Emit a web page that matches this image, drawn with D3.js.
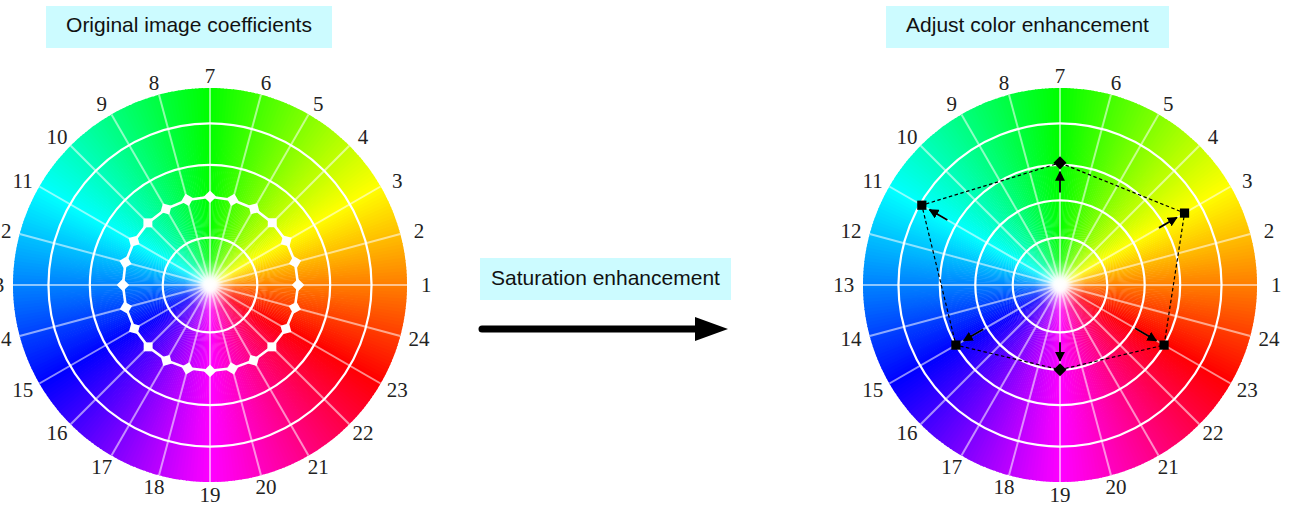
<!DOCTYPE html>
<html>
<head>
<meta charset="utf-8">
<script src="https://cdn.jsdelivr.net/npm/d3@7"></script>
<style>
  body { margin: 0; background: #fff; }
  svg { display: block; }
</style>
</head>
<body>
<div id="chart"></div>
<script>
// sector labels, counter-clockwise from the right (3 o'clock)
var sectors = d3.range(1, 25);

// rings drawn on each wheel (fraction of the wheel radius)
var ringsLeft = [0.24, 0.61, 0.82];
var ringsRight = [0.24, 0.43, 0.61, 0.82];

// original coefficients, one per sector (1..24)
var original = [0.447, 0.447, 0.447, 0.447, 0.447, 0.447, 0.448, 0.447, 0.446, 0.446, 0.445, 0.444,
                0.442, 0.442, 0.443, 0.444, 0.442, 0.438, 0.436, 0.438, 0.442, 0.444, 0.445, 0.446];

// adjusted points (sector, value) and where each arrow starts
var adjSectors = [7, 3, 23, 19, 15, 11];
var adjValues  = [0.62, 0.73, 0.61, 0.43, 0.61, 0.81];
var arrowFrom  = [0.47, 0.58, 0.44, 0.29, 0.45, 0.66];
var adjShape   = ["diamond", "square", "square", "diamond", "square", "square"];

var titles = ["Original image coefficients", "Adjust color enhancement"];
var middleLabel = "Saturation enhancement";

var W = 1296, H = 509, R = 197;
var svg = d3.select("#chart").append("svg")
    .attr("width", W)
    .attr("height", H);

var defs = svg.append("defs");
var grad = defs.append("radialGradient").attr("id", "whiteCore");
grad.append("stop").attr("offset", "0%").attr("stop-color", "#fff").attr("stop-opacity", 1);
grad.append("stop").attr("offset", "3%").attr("stop-color", "#fff").attr("stop-opacity", 0.92);
grad.append("stop").attr("offset", "7%").attr("stop-color", "#fff").attr("stop-opacity", 0.35);
grad.append("stop").attr("offset", "13%").attr("stop-color", "#fff").attr("stop-opacity", 0);

defs.append("marker")
    .attr("id", "head")
    .attr("viewBox", "0 0 10 10")
    .attr("refX", 9).attr("refY", 5)
    .attr("markerWidth", 5.5).attr("markerHeight", 5.5)
    .attr("markerUnits", "strokeWidth")
    .attr("orient", "auto")
  .append("path")
    .attr("d", "M0,0 L10,5 L0,10 z")
    .attr("fill", "#000");

var r = d3.scaleLinear().domain([0, 1]).range([0, R]);
var ang = d3.scaleLinear().domain([1, 25]).range([0, 2 * Math.PI]); // math angle of sector label

function px(s, v) { return r(v) * Math.cos(ang(s)); }
function py(s, v) { return -r(v) * Math.sin(ang(s)); }

function drawWheel(cx, rings) {
  var g = svg.append("g").attr("transform", "translate(" + cx + ",285)");

  // hue wheel: continuous hue, red at sector 23, green at 7, magenta at 19
  var arc = d3.arc().innerRadius(0).outerRadius(R);
  var steps = d3.range(0, 360, 1);
  g.selectAll("path.hue").data(steps).enter().append("path")
      .attr("class", "hue")
      .attr("d", function(a) {
        var s = Math.PI / 2 - (a + 1.3) * Math.PI / 180;
        var e = Math.PI / 2 - a * Math.PI / 180;
        return arc({startAngle: s, endAngle: e});
      })
      .attr("fill", function(a) { return d3.hsl((a + 30) % 360, 1, 0.5); });

  g.append("circle").attr("r", R).attr("fill", "url(#whiteCore)");

  // spokes
  g.selectAll("line.spoke").data(sectors).enter().append("line")
      .attr("class", "spoke")
      .attr("x1", 0).attr("y1", 0)
      .attr("x2", function(d) { return px(d, 1); })
      .attr("y2", function(d) { return py(d, 1); })
      .attr("stroke", "#fff")
      .attr("stroke-opacity", 0.55)
      .attr("stroke-width", 2);

  // rings
  g.selectAll("circle.ring").data(rings).enter().append("circle")
      .attr("class", "ring")
      .attr("r", function(d) { return r(d); })
      .attr("fill", "none")
      .attr("stroke", "#fff")
      .attr("stroke-width", 2.2);

  // sector labels
  g.selectAll("text.lab").data(sectors).enter().append("text")
      .attr("class", "lab")
      .attr("x", function(d) { return px(d, 1.098); })
      .attr("y", function(d) { return py(d, 1.062); })
      .attr("dy", "0.35em")
      .attr("text-anchor", "middle")
      .style("font-family", "'Liberation Serif', 'Times New Roman', serif")
      .style("font-size", "21px")
      .attr("fill", "#222")
      .text(function(d) { return d; });

  return g;
}

function titleBox(x, y, w, h, base, txt) {
  svg.append("rect").attr("x", x).attr("y", y).attr("width", w).attr("height", h)
      .attr("fill", "#ccfbff");
  svg.append("text")
      .attr("x", x + w / 2).attr("y", base)
      .attr("text-anchor", "middle")
      .style("font-family", "'Liberation Sans', Arial, sans-serif")
      .style("font-size", "21px")
      .attr("fill", "#111")
      .text(txt);
}

// left wheel with the original coefficients
var gl = drawWheel(210, ringsLeft);
var lpts = sectors.map(function(s, i) { return [px(s, original[i]), py(s, original[i])]; });
gl.append("path")
    .attr("d", d3.line().curve(d3.curveLinearClosed)(lpts))
    .attr("fill", "none")
    .attr("stroke", "#fff")
    .attr("stroke-width", 2.6);
gl.selectAll("path.mk").data(sectors).enter().append("path")
    .attr("class", "mk")
    .attr("d", d3.symbol().type(d3.symbolSquare).size(80))
    .attr("transform", function(s, i) {
      var deg = ang(s) * 180 / Math.PI;
      return "translate(" + px(s, original[i]) + "," + py(s, original[i]) + ") rotate(" + (-deg - 45) + ")";
    })
    .attr("fill", "#fff");

// right wheel with the adjusted coefficients
var gr = drawWheel(1060, ringsRight);
var rpts = adjSectors.map(function(s, i) { return [px(s, adjValues[i]), py(s, adjValues[i])]; });
gr.append("path")
    .attr("d", d3.line().curve(d3.curveLinearClosed)(rpts))
    .attr("fill", "none")
    .attr("stroke", "#000")
    .attr("stroke-width", 1.2)
    .attr("stroke-dasharray", "3.5,2.5");
gr.selectAll("line.arr").data(adjSectors).enter().append("line")
    .attr("class", "arr")
    .attr("x1", function(s, i) { return px(s, arrowFrom[i]); })
    .attr("y1", function(s, i) { return py(s, arrowFrom[i]); })
    .attr("x2", function(s, i) { return px(s, adjValues[i] - 0.045); })
    .attr("y2", function(s, i) { return py(s, adjValues[i] - 0.045); })
    .attr("stroke", "#000")
    .attr("stroke-width", 1.8)
    .attr("marker-end", "url(#head)");
gr.selectAll("path.mk").data(adjSectors).enter().append("path")
    .attr("class", "mk")
    .attr("d", d3.symbol().type(d3.symbolSquare).size(85))
    .attr("transform", function(s, i) {
      return "translate(" + px(s, adjValues[i]) + "," + py(s, adjValues[i]) + ") rotate(" + (adjShape[i] === "diamond" ? 45 : 0) + ")";
    })
    .attr("fill", "#000");

// titles and the middle arrow
titleBox(46, 6, 286, 42, 32, titles[0]);
titleBox(886, 6, 283, 42, 32, titles[1]);
titleBox(480, 258, 251, 42, 285, middleLabel);

svg.append("line")
    .attr("x1", 482).attr("y1", 329)
    .attr("x2", 700).attr("y2", 329)
    .attr("stroke", "#000")
    .attr("stroke-width", 7)
    .attr("stroke-linecap", "round");
svg.append("path")
    .attr("d", "M695,317 L728,329 L695,341 Z")
    .attr("fill", "#000");
</script>
</body>
</html>
